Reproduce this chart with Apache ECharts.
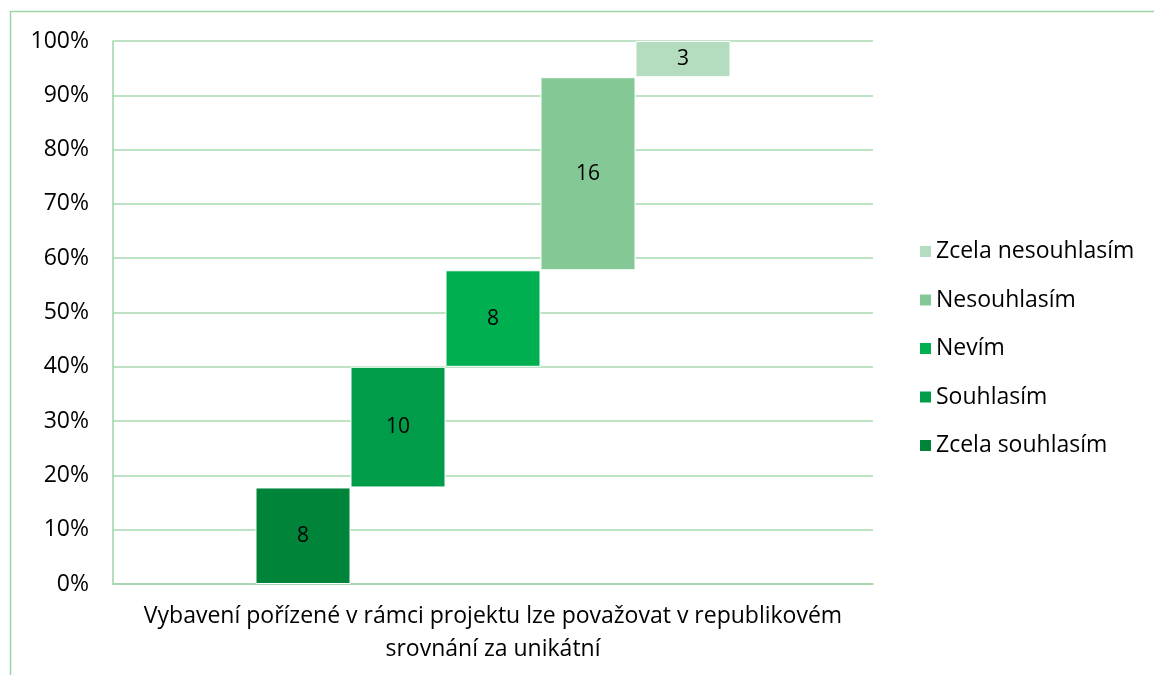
<!DOCTYPE html>
<html>
<head>
<meta charset="utf-8">
<script src="https://cdn.jsdelivr.net/npm/echarts@6/dist/echarts.min.js"></script>
<style>
  html, body { margin: 0; padding: 0; background: #fff; }
  #main { width: 1154px; height: 675px; }
</style>
</head>
<body>
<div id="main"></div>
<script>
var category = 'Vybavení pořízené v rámci projektu lze považovat v republikovém\nsrovnání za unikátní'
var seriesNames = ['Zcela souhlasím', 'Souhlasím', 'Nevím', 'Nesouhlasím', 'Zcela nesouhlasím']
var counts = [8, 10, 8, 16, 3]
var colors = ['#00843a', '#009c4a', '#00b050', '#84c896', '#b4dcbe']
var yTicks = [0, 10, 20, 30, 40, 50, 60, 70, 80, 90, 100]

var total = counts.reduce(function (a, b) { return a + b }, 0)
var font = 'Open Sans'

// kazda rada ma vlastni stack: pruhledny podstavec + viditelny dil
var series = []
var base = 0
seriesNames.forEach(function (name, i) {
  var pct = counts[i] / total * 100
  series.push({
    name: 'base' + i,
    type: 'bar',
    stack: 's' + i,
    silent: true,
    itemStyle: { color: 'transparent' },
    data: [base]
  })
  series.push({
    name: name,
    type: 'bar',
    stack: 's' + i,
    barGap: '0%',
    barCategoryGap: '37.5%',
    itemStyle: { color: colors[i], borderColor: '#fff', borderWidth: 1 },
    label: {
      show: true,
      position: 'inside',
      color: '#000',
      fontFamily: font,
      fontSize: 21,
      formatter: function () { return counts[i] }
    },
    data: [pct]
  })
  base += pct
})

var myChart = echarts.init(document.getElementById('main'))
myChart.setOption({
  animation: false,
  graphic: [{
    type: 'rect',
    shape: { x: 10.5, y: 11.5, width: 1300, height: 800 },
    style: { fill: 'none', stroke: '#9fd4a8', lineWidth: 1.5 },
    silent: true
  }],
  legend: {
    data: seriesNames.slice().reverse(),
    orient: 'vertical',
    left: 915,
    top: 234,
    itemWidth: 11,
    itemHeight: 11,
    itemGap: 23.5,
    itemStyle: { borderWidth: 0 },
    icon: 'rect',
    textStyle: { fontFamily: font, fontSize: 23, color: '#000', lineHeight: 25 }
  },
  grid: { left: 113, right: 281, top: 41, bottom: 91 },
  xAxis: {
    type: 'category',
    data: [category],
    axisLine: { lineStyle: { color: '#9fd4a8', width: 1.5 } },
    axisTick: { show: false },
    axisLabel: { color: '#000', fontFamily: font, fontSize: 23, lineHeight: 33, margin: 16 }
  },
  yAxis: {
    type: 'value',
    min: yTicks[0],
    max: yTicks[yTicks.length - 1],
    interval: 10,
    axisLine: { show: true, lineStyle: { color: '#9fd4a8', width: 1.5 } },
    axisTick: { show: false },
    splitLine: { lineStyle: { color: '#a8d8b0', width: 1.5 } },
    axisLabel: { color: '#000', fontFamily: font, fontSize: 23, margin: 24, formatter: '{value}%' }
  },
  series: series
})
</script>
</body>
</html>
